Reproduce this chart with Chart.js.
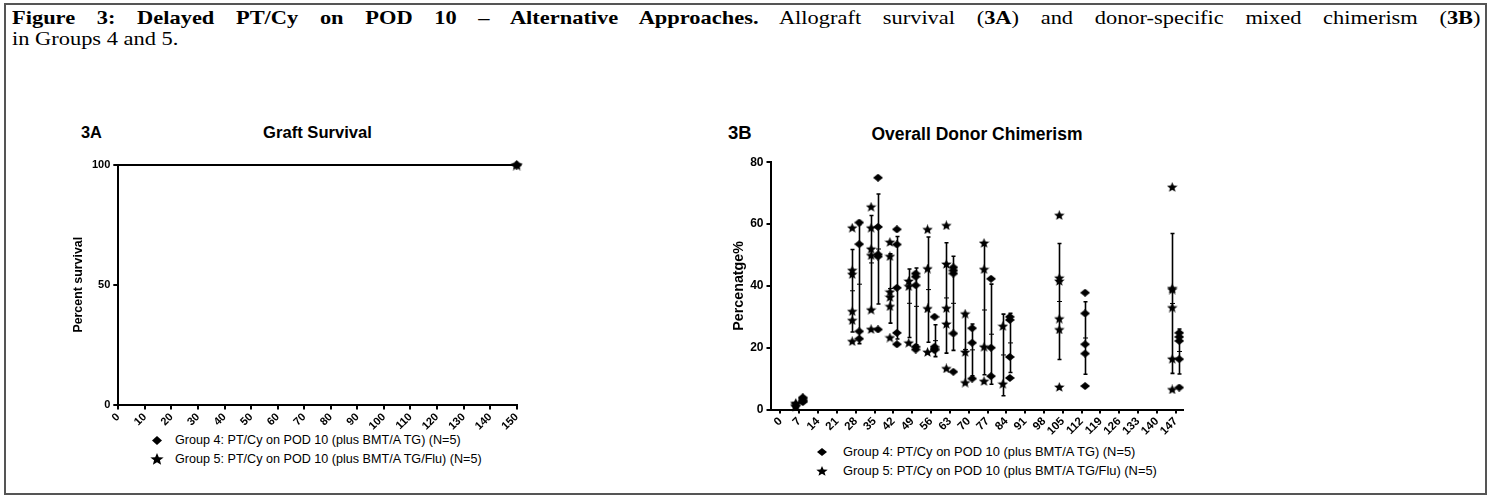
<!DOCTYPE html>
<html>
<head>
<meta charset="utf-8">
<script src="https://cdn.jsdelivr.net/npm/chart.js@4.4.0/dist/chart.umd.min.js"></script>
<style>
body{margin:0;background:#fff;width:1494px;height:501px;position:relative;overflow:hidden;font-family:"Liberation Sans",Arial,sans-serif;color:#000;}
#frame{position:absolute;left:4px;top:3px;width:1479px;height:488px;border:2px solid #555;}
.cap{position:absolute;left:12px;width:1277px;font-family:"Liberation Serif","Times New Roman",serif;font-size:19.5px;line-height:21px;white-space:nowrap;transform-origin:0 0;transform:scaleX(1.15);}
#cap1{top:7px;text-align:justify;text-align-last:justify;white-space:normal;}
#cap2{top:28px;}
.lbl{position:absolute;font-weight:bold;white-space:nowrap;transform:translate(0,-50%);}
.ttl{position:absolute;font-weight:bold;white-space:nowrap;transform:translate(-50%,-50%);}
canvas.c{position:absolute;}
.leg{position:absolute;white-space:nowrap;line-height:16px;transform:translate(0,-50%);}
canvas.mk{position:absolute;}
</style>
</head>
<body>
<div id="frame"></div>
<div class="cap" id="cap1"><b>Figure 3: Delayed PT/Cy on POD 10 – Alternative Approaches.</b> Allograft survival (<b>3A</b>) and donor-specific mixed chimerism (<b>3B</b>)</div>
<div class="cap" id="cap2">in Groups 4 and 5.</div>

<div class="lbl" style="left:81px;top:132px;font-size:16.4px">3A</div>
<div class="ttl" style="left:317.5px;top:133px;font-size:16.6px">Graft Survival</div>
<div class="lbl" style="left:728px;top:133px;font-size:18.5px">3B</div>
<div class="ttl" style="left:977px;top:134px;font-size:17.5px">Overall Donor Chimerism</div>

<canvas class="c" id="survival" style="left:0;top:140px"></canvas>
<canvas class="c" id="chimerism" style="left:690px;top:140px"></canvas>

<div id="legA"></div>
<div id="legB"></div>

<script>
// graft survival (3A)
const survDays = [0, 150];
const survG4 = [100, 100];
const survG5 = [100, 100];
const survTicksX = [0, 10, 20, 30, 40, 50, 60, 70, 80, 90, 100, 110, 120, 130, 140, 150];

// donor chimerism (3B), individual animals per time point
const chimTicksX = [0, 7, 14, 21, 28, 35, 42, 49, 56, 63, 70, 77, 84, 91, 98, 105, 112, 119, 126, 133, 140, 147];
const chimDays4 = [7, 28, 35, 42, 49, 56, 63, 70, 77, 84, 112, 147];
const chimG4 = [
  [2.4, 3.0, 3.6, 3.9, 2.7],
  [60.5, 53.5, 25.3, 22.9],
  [75.0, 59.1, 50.2, 49.5, 25.9],
  [58.3, 53.4, 39.4, 24.8, 21.1],
  [44.0, 43.0, 40.2, 20.3, 19.4],
  [30.0, 20.3, 19.6, 19.2],
  [46.0, 45.0, 44.0, 24.6, 12.2],
  [26.3, 21.6, 10.0],
  [42.3, 20.0, 10.8],
  [30.0, 29.0, 17.0, 10.2],
  [37.8, 31.1, 21.1, 18.1, 7.6],
  [24.8, 23.5, 22.2, 16.3, 7.1]
];
const chimDays5 = [7, 28, 35, 42, 49, 56, 63, 70, 77, 84, 105, 147];
const chimG5 = [
  [0.9, 1.3, 1.8, 1.1, 2.1],
  [58.8, 45.1, 43.8, 31.8, 28.9, 22.1],
  [65.6, 58.8, 52.0, 49.9, 32.3, 26.0],
  [54.2, 49.6, 38.1, 36.4, 33.4, 23.3],
  [41.6, 39.9, 21.6],
  [58.3, 45.6, 32.7, 18.6],
  [59.6, 47.1, 32.8, 27.7, 13.3],
  [31.0, 18.6, 8.7],
  [53.9, 45.4, 20.3, 9.2],
  [27.0, 8.3],
  [62.9, 42.6, 41.6, 29.4, 25.9, 7.3],
  [72.0, 39.2, 38.8, 33.0, 16.4, 6.5]
];
const label4 = "Group 4: PT/Cy on POD 10 (plus BMT/A TG) (N=5)";
const label5 = "Group 5: PT/Cy on POD 10 (plus BMT/A TG/Flu) (N=5)";

const OFF4 = 1.3, OFF5 = -1.3;
const FONT = "'Liberation Sans', Arial, sans-serif";

// markers are a little wider than tall, like the source figure
function makeStar(w, h) {
  var c = document.createElement('canvas');
  c.width = w; c.height = h;
  var g = c.getContext('2d');
  g.fillStyle = '#000';
  g.beginPath();
  for (var i = 0; i < 10; i++) {
    var a = -Math.PI / 2 + i * Math.PI / 5;
    var k = i % 2 == 0 ? 1 : 0.44;
    g.lineTo(w / 2 + k * (w / 2) * Math.cos(a), h * 0.54 + k * (h * 0.54) * Math.sin(a));
  }
  g.closePath();
  g.fill();
  return c;
}
function makeDiamond(w, h) {
  var c = document.createElement('canvas');
  c.width = w; c.height = h;
  var g = c.getContext('2d');
  g.fillStyle = '#000';
  g.beginPath();
  g.moveTo(w / 2, 0); g.lineTo(w, h / 2); g.lineTo(w / 2, h); g.lineTo(0, h / 2);
  g.closePath(); g.fill();
  return c;
}

function points(days, groups, off) {
  var out = [];
  days.forEach(function (d, i) {
    groups[i].forEach(function (v) { out.push({x: d + off, y: v}); });
  });
  return out;
}

// mean +/- SD bars behind the points
const errorBars = {
  id: 'errorBars',
  beforeDatasetsDraw(chart, args, opts) {
    if (!opts.sets) return;
    var ctx = chart.ctx, xs = chart.scales.x, ys = chart.scales.y;
    ctx.save();
    ctx.strokeStyle = '#000';
    opts.sets.forEach(function (s) {
      s.days.forEach(function (d, i) {
        var v = s.values[i];
        var n = v.length;
        var m = v.reduce((a, b) => a + b, 0) / n;
        var sd = Math.sqrt(v.reduce((a, b) => a + (b - m) * (b - m), 0) / (n - 1));
        var px = Math.round(xs.getPixelForValue(d + s.offset)) + 0.5;
        var top = ys.getPixelForValue(m + sd), bot = ys.getPixelForValue(m - sd), mid = ys.getPixelForValue(m);
        ctx.lineWidth = 1.6;
        ctx.beginPath();
        ctx.moveTo(px, top); ctx.lineTo(px, bot);
        ctx.moveTo(px - 2, top); ctx.lineTo(px + 2, top);
        ctx.moveTo(px - 2, bot); ctx.lineTo(px + 2, bot);
        ctx.stroke();
        ctx.lineWidth = 1;
        ctx.beginPath();
        ctx.moveTo(px - 2.5, mid); ctx.lineTo(px + 2.5, mid);
        ctx.stroke();
      });
    });
    ctx.restore();
  }
};

Chart.defaults.color = '#000';
Chart.defaults.font.family = FONT;

function axisX(min, max, ticks, fontSize, height, tickLen) {
  return {
    type: 'linear', min: min, max: max,
    afterBuildTicks: function (s) { s.ticks = ticks.map(v => ({value: v})); },
    afterFit: function (s) { s.height = height; },
    border: {display: true, color: '#000', width: 2},
    grid: {drawOnChartArea: false, drawTicks: true, tickLength: tickLen, color: '#000', lineWidth: 2},
    ticks: {autoSkip: false, minRotation: 45, maxRotation: 45, padding: 1, font: {size: fontSize, weight: 'bold'}}
  };
}
function axisY(max, step, fontSize, width, tickLen, title, titleSize, titlePad) {
  return {
    min: 0, max: max,
    afterFit: function (s) { s.width = width; },
    border: {display: true, color: '#000', width: 2},
    grid: {drawOnChartArea: false, drawTicks: true, tickLength: tickLen, color: '#000', lineWidth: 2},
    ticks: {stepSize: step, padding: 3, font: {size: fontSize, weight: 'bold'}},
    title: {display: true, text: title, font: {size: titleSize, weight: 'bold'}, padding: {top: titlePad, bottom: 0}}
  };
}

var cA = document.getElementById('survival');
cA.width = 560; cA.height = 290;
new Chart(cA, {
  type: 'line',
  data: {
    datasets: [
      {label: label4, data: survDays.map((d, i) => ({x: d, y: survG4[i]})), borderColor: '#000', backgroundColor: '#000',
       borderWidth: 2, pointStyle: makeDiamond(11, 9), pointRadius: [0, 5], stepped: true, clip: false, order: 1},
      {label: label5, data: survDays.map((d, i) => ({x: d, y: survG5[i]})), borderColor: '#000', backgroundColor: '#000',
       borderWidth: 2, pointStyle: makeStar(13, 11), pointRadius: [0, 6], stepped: true, clip: false, order: 0}
    ]
  },
  options: {
    responsive: false, animation: false,
    layout: {padding: {left: 0, right: 43.3, top: 25, bottom: 0}},
    plugins: {legend: {display: false}, tooltip: {enabled: false}},
    scales: {
      x: axisX(0, 150, survTicksX, 11, 25.5, 5),
      y: axisY(100, 50, 11, 118.3, 5, 'Percent survival', 12.4, 70.9)
    }
  }
});

var cB = document.getElementById('chimerism');
cB.width = 530; cB.height = 300;
new Chart(cB, {
  type: 'scatter',
  data: {
    datasets: [
      {label: label4, data: points(chimDays4, chimG4, OFF4), pointStyle: makeDiamond(10, 8), pointRadius: 5,
       backgroundColor: '#000', borderColor: '#000', clip: false},
      {label: label5, data: points(chimDays5, chimG5, OFF5), pointStyle: makeStar(11, 10), pointRadius: 5,
       backgroundColor: '#000', borderColor: '#000', clip: false}
    ]
  },
  options: {
    responsive: false, animation: false,
    layout: {padding: {left: 0, right: 37, top: 22.3, bottom: 0}},
    plugins: {
      legend: {display: false}, tooltip: {enabled: false},
      errorBars: {sets: [
        {days: chimDays5, values: chimG5, offset: OFF5},
        {days: chimDays4, values: chimG4, offset: OFF4}
      ]}
    },
    scales: {
      x: axisX(-3.7, 149.7, chimTicksX, 11.5, 30.5, 4),
      y: axisY(80, 20, 12, 80.5, 4, 'Percenatge%', 14.3, 40.4)
    }
  },
  plugins: [errorBars]
});

// legends under each panel
function legend(id, x, y1, y2, fontSize, mk4, mk5, textX) {
  var box = document.getElementById(id);
  [[label4, mk4, y1], [label5, mk5, y2]].forEach(function (row) {
    var m = row[1];
    m.className = 'mk';
    m.style.left = (x - m.width / 2) + 'px';
    m.style.top = (row[2] - m.height / 2) + 'px';
    box.appendChild(m);
    var t = document.createElement('div');
    t.className = 'leg';
    t.style.left = textX + 'px';
    t.style.top = row[2] + 'px';
    t.style.fontSize = fontSize + 'px';
    t.textContent = row[0];
    box.appendChild(t);
  });
}
legend('legA', 157, 440, 459, 12.6, makeDiamond(10, 9), makeStar(14, 12), 175);
legend('legB', 822, 452, 471, 12.9, makeDiamond(10, 8), makeStar(12, 10), 843);
</script>
</body>
</html>
